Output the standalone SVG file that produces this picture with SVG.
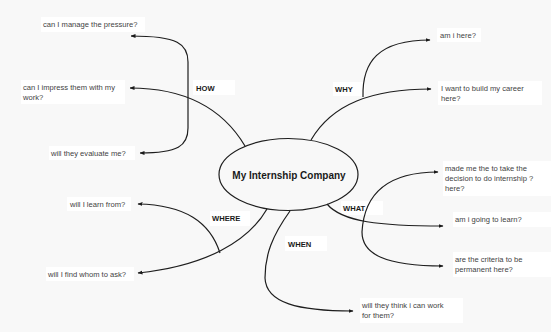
<svg xmlns="http://www.w3.org/2000/svg" width="551" height="332" viewBox="0 0 551 332">
<defs>
<marker id="arr" viewBox="0 0 10 10" refX="9" refY="5" markerWidth="5" markerHeight="5" orient="auto" markerUnits="userSpaceOnUse">
<path d="M0,1 L10,5 L0,9 z" fill="#1a1a1a"/>
</marker>
<style>
.bg{fill:#f8f8f8}
.box{fill:#ffffff}
.t{font-family:"Liberation Sans",Arial,sans-serif;font-size:7.6px;fill:#3f3f3f}
.lb{font-family:"Liberation Sans",Arial,sans-serif;font-size:7.6px;font-weight:bold;fill:#1a1a1a}
.c{fill:none;stroke:#1e1e1e;stroke-width:1.2}
.ca{fill:none;stroke:#1e1e1e;stroke-width:1.2;marker-end:url(#arr)}
</style>
</defs>
<rect class="bg" x="0" y="0" width="551" height="332"/>

<g id="center">
<ellipse cx="288.5" cy="174.5" rx="69.5" ry="36" fill="#f8f8f8" stroke="#1e1e1e" stroke-width="1.2"/>
<text x="289" y="178.5" text-anchor="middle" style="font-family:'Liberation Sans',Arial,sans-serif;font-size:10px;font-weight:bold;fill:#1a1a1a">My Internship Company</text>
</g>

<g id="how">
<rect class="box" x="193" y="80" width="42" height="15"/>
<text class="lb" x="196" y="91">HOW</text>
</g>
<g id="how-1">
<rect class="box" x="41" y="17" width="104" height="15"/>
<text class="t" x="43" y="27">can I manage the pressure?</text>
</g>
<g id="how-2">
<rect class="box" x="21" y="80" width="104" height="24"/>
<text class="t" x="23" y="90">can I impress them with my</text>
<text class="t" x="23" y="100">work?</text>
</g>
<g id="how-3">
<rect class="box" x="49" y="146" width="86" height="14"/>
<text class="t" x="51" y="156">will they evaluate me?</text>
</g>

<g id="why">
<rect class="box" x="333" y="82" width="32" height="14"/>
<text class="lb" x="335" y="92">WHY</text>
</g>
<g id="why-1">
<rect class="box" x="437" y="28" width="44" height="14"/>
<text class="t" x="440" y="38">am i here?</text>
</g>
<g id="why-2">
<rect class="box" x="438" y="81" width="104" height="24"/>
<text class="t" x="441" y="91">I want to build my career</text>
<text class="t" x="441" y="101">here?</text>
</g>

<g id="what">
<rect class="box" x="341" y="201" width="42" height="14"/>
<text class="lb" x="343" y="211">WHAT</text>
</g>
<g id="what-1">
<rect class="box" x="443" y="161" width="108" height="35"/>
<text class="t" x="445" y="171">made me the to take the</text>
<text class="t" x="445" y="181">decision to do internship ?</text>
<text class="t" x="445" y="191">here?</text>
</g>
<g id="what-2">
<rect class="box" x="453" y="212" width="98" height="15"/>
<text class="t" x="455" y="222">am i going to learn?</text>
</g>
<g id="what-3">
<rect class="box" x="453" y="252" width="98" height="25"/>
<text class="t" x="455" y="262">are the criteria to be</text>
<text class="t" x="455" y="272">permanent here?</text>
</g>

<g id="when">
<rect class="box" x="285" y="236" width="42" height="15"/>
<text class="lb" x="288" y="247">WHEN</text>
</g>
<g id="when-1">
<rect class="box" x="360" y="298" width="103" height="25"/>
<text class="t" x="362" y="308">will they think i can work</text>
<text class="t" x="362" y="318">for them?</text>
</g>

<g id="where">
<rect class="box" x="210" y="211" width="40" height="15"/>
<text class="lb" x="212" y="221">WHERE</text>
</g>
<g id="where-1">
<rect class="box" x="67" y="197" width="64" height="14"/>
<text class="t" x="70" y="207">will I learn from?</text>
</g>
<g id="where-2">
<rect class="box" x="46" y="267" width="88" height="14"/>
<text class="t" x="48" y="277">will I find whom to ask?</text>
</g>

<g id="connectors">
<path class="ca" d="M245,146 C220,104 180,88 130,88"/>
<path class="ca" d="M188,90 L188,62 C188,44 178,36 131,36"/>
<path class="ca" d="M188,90 L188,128 C188,146 178,153 140,153"/>
<path class="ca" d="M311,140 C332,104 372,89 431,89"/>
<path class="ca" d="M363,97 C362,62 378,40 430,40"/>
<path class="ca" d="M327,204 C342,222 380,226 443,226"/>
<path class="ca" d="M362,232 C364,196 385,172 438,172"/>
<path class="ca" d="M362,232 C362,254 385,266 443,266"/>
<path class="ca" d="M290,211 C272,236 265,255 265,278 C266,303 298,311 353,311"/>
<path class="ca" d="M267,209 C248,242 205,266 138,273"/>
<path class="ca" d="M220,253 C210,222 185,205 138,204"/>
</g>
</svg>
